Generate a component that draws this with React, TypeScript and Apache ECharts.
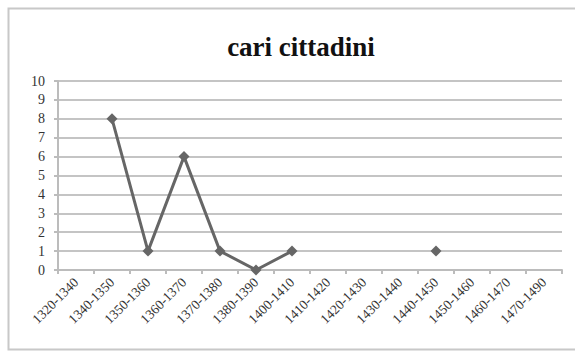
import React, { useEffect, useRef } from "react";
import * as echarts from "echarts";

const categories = [
  "1320-1340", "1340-1350", "1350-1360", "1360-1370", "1370-1380", "1380-1390",
  "1400-1410", "1410-1420", "1420-1430", "1430-1440", "1440-1450", "1450-1460",
  "1460-1470", "1470-1490",
];
const values: (number | null)[] = [null, 8, 1, 6, 1, 0, 1, null, null, null, 1, null, null, null];
const yTicks = { min: 0, max: 10, interval: 1 };
const titleText = "cari cittadini";

const FONT = "Liberation Serif";

export default function App() {
  const ref = useRef<HTMLDivElement>(null);
  useEffect(() => {
    if (!ref.current) return;
    const chart = echarts.init(ref.current, null, { renderer: "svg" });
    chart.setOption({
      animation: false,
      backgroundColor: "#ffffff",
      textStyle: { fontFamily: FONT },
      title: {
        text: titleText,
        left: 296,
        textAlign: "center",
        top: 28,
        textStyle: { fontFamily: FONT, fontSize: 27, fontWeight: "bold", color: "#111" },
      },
      graphic: [
        {
          type: "rect",
          shape: { x: 8.5, y: 8.5, width: 600, height: 341 },
          style: { fill: "none", stroke: "#c8c8c8", lineWidth: 2 },
          silent: true,
        },
      ],
      grid: { left: 58, right: 13, top: 81, bottom: 83, containLabel: false },
      xAxis: {
        type: "category",
        data: categories,
        boundaryGap: true,
        axisLine: { lineStyle: { color: "#bcbcbc", width: 2 } },
        axisTick: { show: true, length: 4, lineStyle: { color: "#bcbcbc", width: 2 } },
        axisLabel: {
          interval: 0,
          rotate: 45,
          fontFamily: FONT,
          fontSize: 13.5,
          color: "#333",
          margin: 10,
        },
      },
      yAxis: {
        type: "value",
        min: yTicks.min,
        max: yTicks.max,
        interval: yTicks.interval,
        axisLine: { show: true, lineStyle: { color: "#bcbcbc", width: 2 } },
        axisTick: { show: true, length: 4, lineStyle: { color: "#bcbcbc", width: 2 } },
        splitLine: { show: true, lineStyle: { color: "#c4c4c4", width: 2 } },
        axisLabel: { fontFamily: FONT, fontSize: 14, color: "#333", margin: 13 },
      },
      series: [
        {
          type: "line",
          data: values,
          connectNulls: false,
          symbol: "diamond",
          symbolSize: 11,
          showAllSymbol: true,
          lineStyle: { color: "#666666", width: 3 },
          itemStyle: { color: "#666666" },
        },
      ],
    });
    return () => chart.dispose();
  }, []);
  return <div ref={ref} style={{ width: 575, height: 353, position: "absolute", left: 0, top: 0 }} />;
}
